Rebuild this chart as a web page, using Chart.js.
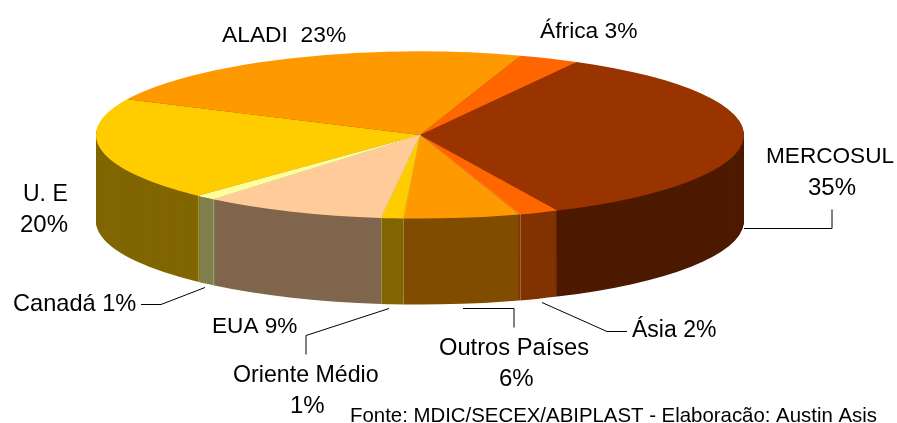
<!DOCTYPE html>
<html>
<head>
<meta charset="utf-8">
<style>
  html, body { margin: 0; padding: 0; background: #fff; }
  canvas { display: block; }
</style>
<script src="https://cdn.jsdelivr.net/npm/chart.js@4"></script>
</head>
<body>
<canvas id="chart" width="897" height="423"></canvas>
<script>
const categories = ['MERCOSUL', 'Ásia', 'Outros Países', 'Oriente Médio', 'EUA', 'Canadá', 'U. E', 'ALADI', 'África'];
const shares = [35, 2, 5.8, 1.1, 9.1, 1, 20, 23, 3];
const topColors = ['#993300', '#ff6600', '#ff9900', '#ffcc00', '#ffcc99', '#ffff99', '#ffcc00', '#ff9900', '#ff6600'];
const sideColors = ['#4d1a00', '#803300', '#804d00', '#806600', '#80664d', '#80804d', '#806600', '#804d00', '#803300'];
const sourceNote = 'Fonte: MDIC/SECEX/ABIPLAST - Elaboracão: Austin Asis';

// where the squashed pie sits on the page
const pie = { cx: 420, cy: 135, rx: 324, ry: 83.5, depth: 86 };

// text blocks, x is the left edge of each line
const labelLayout = [
  { i: 0, lines: [[766, 163, 22.6, 'name'], [808, 195, 24, 'pct']] },
  { i: 1, lines: [[632, 337, 23, 'both']] },
  { i: 2, lines: [[439, 355, 23.7, 'name'], [499, 386, 24, 'pct']] },
  { i: 3, lines: [[233, 382, 23.2, 'name'], [290, 413, 24, 'pct']] },
  { i: 4, lines: [[212, 333, 22.6, 'both']] },
  { i: 5, lines: [[13, 311, 23.6, 'both']] },
  { i: 6, lines: [[23, 201, 23, 'name'], [20, 232, 24, 'pct']] },
  { i: 7, lines: [[222, 42, 22.8, 'both2']] },
  { i: 8, lines: [[540, 38, 22.8, 'both']] }
];

const leaders = [
  [[744, 228], [832, 228], [832, 209]],
  [[542, 302], [607, 331], [627, 331]],
  [[463, 308], [514, 308], [514, 327]],
  [[389, 308], [306, 335], [306, 354]],
  [[205, 287], [161, 304], [141, 304]]
];

function drawArc(ctx, arc, color) {
  const saved = arc.options;
  arc.options = Object.assign({}, saved, { backgroundColor: color, borderWidth: 0 });
  arc.draw(ctx);
  arc.options = saved;
}

const pie3d = {
  id: 'pie3d',
  beforeDatasetDraw(chart, args) {
    const ctx = chart.ctx;
    const arcs = args.meta.data;
    const R = arcs[0].outerRadius;

    function place(dy) {
      ctx.setTransform(1, 0, 0, 1, 0, 0);
      ctx.translate(pie.cx, pie.cy + dy);
      ctx.scale(pie.rx / R, pie.ry / R);
      ctx.translate(-arcs[0].x, -arcs[0].y);
    }

    ctx.save();
    // side wall: stack of copies from the bottom up
    for (let dy = pie.depth; dy > 0; dy--) {
      place(dy);
      arcs.forEach((arc, i) => drawArc(ctx, arc, sideColors[i]));
    }
    place(0);
    arcs.forEach((arc, i) => drawArc(ctx, arc, topColors[i]));
    ctx.setTransform(1, 0, 0, 1, 0, 0);

    // pale seams on the front slices, none between Mercosul and Asia
    ctx.lineWidth = 1;
    arcs.forEach((arc, i) => {
      const a = arc.startAngle;
      if (i < 2 || Math.sin(a) <= 0.2) return;
      const x = Math.round(pie.cx + Math.cos(a) * pie.rx) + 0.5;
      const y = pie.cy + Math.sin(a) * pie.ry;
      ctx.strokeStyle = 'rgba(255,255,255,0.18)';
      ctx.beginPath();
      ctx.moveTo(pie.cx, pie.cy);
      ctx.lineTo(x, y);
      ctx.stroke();
      ctx.strokeStyle = 'rgba(255,255,255,0.25)';
      ctx.beginPath();
      ctx.moveTo(x, y);
      ctx.lineTo(x, y + pie.depth);
      ctx.stroke();
    });
    ctx.restore();
    return false;
  },
  afterDatasetsDraw(chart) {
    const ctx = chart.ctx;
    ctx.save();
    ctx.strokeStyle = '#000';
    ctx.lineWidth = 1;
    leaders.forEach(pts => {
      ctx.beginPath();
      pts.forEach((p, k) => k ? ctx.lineTo(p[0], p[1] + 0.5) : ctx.moveTo(p[0], p[1] + 0.5));
      ctx.stroke();
    });
    ctx.fillStyle = '#000';
    ctx.textBaseline = 'alphabetic';
    labelLayout.forEach(block => {
      const name = categories[block.i];
      const pct = Math.round(shares[block.i]) + '%';
      block.lines.forEach(([x, y, size, kind]) => {
        ctx.font = size + 'px "Liberation Sans"';
        const text = kind === 'name' ? name : kind === 'pct' ? pct : kind === 'both2' ? name + '  ' + pct : name + ' ' + pct;
        ctx.fillText(text, x, y);
      });
    });
    ctx.font = '20.4px "Liberation Sans"';
    ctx.fillText(sourceNote, 350, 422);
    ctx.restore();
  }
};

new Chart(document.getElementById('chart'), {
  type: 'pie',
  data: {
    labels: categories,
    datasets: [{ data: shares, backgroundColor: topColors, borderWidth: 0 }]
  },
  plugins: [pie3d],
  options: {
    responsive: false,
    animation: false,
    rotation: 28.9,
    plugins: { legend: { display: false }, tooltip: { enabled: false } }
  }
});
</script>
</body>
</html>
